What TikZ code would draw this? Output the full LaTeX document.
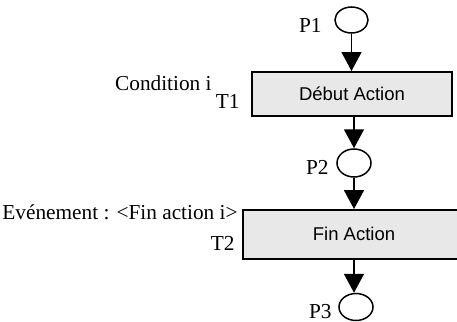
\documentclass[tikz,border=0pt]{standalone}
\usepackage{fontspec}
\setmainfont{Liberation Serif}
\newfontfamily\helv{Liberation Sans}
\usetikzlibrary{arrows.meta,shapes.geometric}
\begin{document}
\begin{tikzpicture}[x=0.5pt,y=-0.5pt,
  place/.style={draw,ellipse,line width=0.75pt,inner sep=0pt},
  trans/.style={draw,line width=1pt,fill=gray!18,inner sep=0pt,font=\helv\fontsize{9.25}{11}\selectfont},
  lbl/.style={inner sep=0pt,anchor=base east,font=\fontsize{10.65}{12}\selectfont},
  flow/.style={line width=0.75pt,-{Triangle[length=9.5pt,width=10pt]}}]
\useasboundingbox (0,0) rectangle (457,322);
% places
\node[place,minimum width=16.5pt,minimum height=13pt] (P1) at (351.5,20) {};
\node[place,minimum width=17pt,minimum height=14pt] (P2) at (354,163) {};
\node[place,minimum width=17pt,minimum height=13.5pt] (P3) at (356,307) {};
% transitions
\node[trans,minimum width=100pt,minimum height=22pt] (T1) at (352,94) {Début Action};
\node[trans,minimum width=111pt,minimum height=24.25pt] (T2) at (354,234.3) {Fin Action};
% labels
\node[lbl] (lP1) at (322,32) {P1};
\node[lbl] (lP2) at (329,174) {P2};
\node[lbl] (lP3) at (332,318) {P3};
\node[lbl] (cond) at (212,90.5) {Condition i};
\node[lbl] (lT1) at (240,108) {T1};
\node[lbl] (evt) at (238,219) {Evénement : <Fin action i>};
\node[lbl] (lT2) at (235,250) {T2};
% arcs
\draw[flow] (P1.south) -- (P1.south |- T1.north);
\draw[flow] (P2.north |- T1.south) -- (P2.north);
\draw[flow] (P2.south) -- (P2.south |- T2.north);
\draw[flow] (T2.south) -- (T2.south |- P3.north);
\end{tikzpicture}
\end{document}
